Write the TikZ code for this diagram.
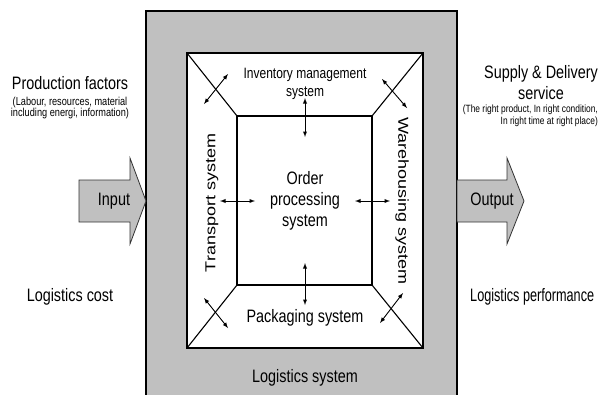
\documentclass[tikz,border=0pt]{standalone}
\usepackage{fontspec}
\setmainfont{Liberation Sans}
\newfontfamily\narrowfont[FakeStretch=0.8]{Liberation Sans}
\usetikzlibrary{arrows}
\definecolor{logigray}{RGB}{192,192,192}

\begin{document}
\begin{tikzpicture}[x=1pt,y=-1pt]

    \tikzstyle{lbl} = [font=\narrowfont\fontsize{18}{21}\selectfont, inner sep=0pt, align=center]
    \tikzstyle{sub} = [font=\narrowfont\fontsize{15}{18}\selectfont, inner sep=0pt, align=center]
    \tikzstyle{note} = [font=\narrowfont\fontsize{11.5}{11.5}\selectfont, inner sep=0pt, align=center]
    \tikzstyle{side} = [font=\fontsize{18}{21}\selectfont, inner sep=0pt]
    \tikzstyle{dbl} = [arrows=<->, >=latex, line width=.9pt]
    \tikzstyle{frame} = [line width=1.1pt]
    \tikzstyle{block} = [fill=logigray, draw=black!80, line width=.8pt]

    \clip (0,0) rectangle (601,394);

    % Logistics system
    \draw[fill=logigray, line width=1.2pt] (146,11) rectangle (457,410);
    \draw[frame, fill=white] (187,53) rectangle (423,348);
    \draw[frame] (237,116) rectangle (372,285);
    \draw[frame] (187,53) -- (237,116);
    \draw[frame] (423,53) -- (372,116);
    \draw[frame] (187,348) -- (237,285);
    \draw[frame] (423,348) -- (372,285);
    \node[lbl] (logsys) at (305,378) {Logistics system};

    % Subsystems
    \node[sub] (inventory) at (305,84) {Inventory management\\system};
    \node[lbl] (order) at (305,201) {Order\\processing\\system};
    \node[lbl] (packaging) at (305,318) {Packaging system};
    \node[side, rotate=90] (transport) at (212,203)
        {\scalebox{1}[0.8]{Transport system}};
    \node[side, rotate=-90] (warehouse) at (402,201)
        {\scalebox{1}[0.8]{Warehousing system}};

    % Exchange arrows
    \coordinate (invA) at (305,98);
    \coordinate (invB) at (305,137);
    \coordinate (packA) at (305,263);
    \coordinate (packB) at (305,305);
    \coordinate (traA) at (220,201);
    \coordinate (traB) at (255,201);
    \coordinate (wareA) at (355,201);
    \coordinate (wareB) at (390,201);
    \draw[dbl] (invA) -- (invB);
    \draw[dbl] (packA) -- (packB);
    \draw[dbl] (traA) -- (traB);
    \draw[dbl] (wareA) -- (wareB);

    \coordinate (tlA) at (204,104);
    \coordinate (tlB) at (228,74);
    \coordinate (trA) at (382,79);
    \coordinate (trB) at (407,108);
    \coordinate (blA) at (204,298);
    \coordinate (blB) at (228,328);
    \coordinate (brA) at (380,323);
    \coordinate (brB) at (403,293);
    \draw[dbl] (tlA) -- (tlB);
    \draw[dbl] (trA) -- (trB);
    \draw[dbl] (blA) -- (blB);
    \draw[dbl] (brA) -- (brB);

    % Input
    \draw[block] (79,180) -- (130,180) -- (130,158) -- (146,201)
        -- (130,244) -- (130,222) -- (79,222) -- cycle;
    \node[lbl] (input) at (114,201) {Input};
    \node[lbl] (prod) at (70,83) {Production factors};
    \node[note] (prodnote) at (70,108)
        {(Labour, resources, material\\including energi, information)};
    \node[lbl] (cost) at (70,297) {Logistics cost};

    % Output
    \draw[block] (457,180) -- (507,180) -- (507,158) -- (524,201)
        -- (507,244) -- (507,222) -- (457,222) -- cycle;
    \node[lbl] (output) at (492,201) {Output};
    \node[lbl] (supply) at (541,83) {Supply \& Delivery\\service};
    \node[note, font=\narrowfont\fontsize{10.5}{12}\selectfont, align=right,
        anchor=east] (supplynote) at (598,116)
        {(The right product, In right condition,\\In right time at right place)};
    \node[lbl, anchor=west] (perf) at (470,297)
        {\scalebox{0.88}[1]{Logistics performance}};

\end{tikzpicture}
\end{document}
